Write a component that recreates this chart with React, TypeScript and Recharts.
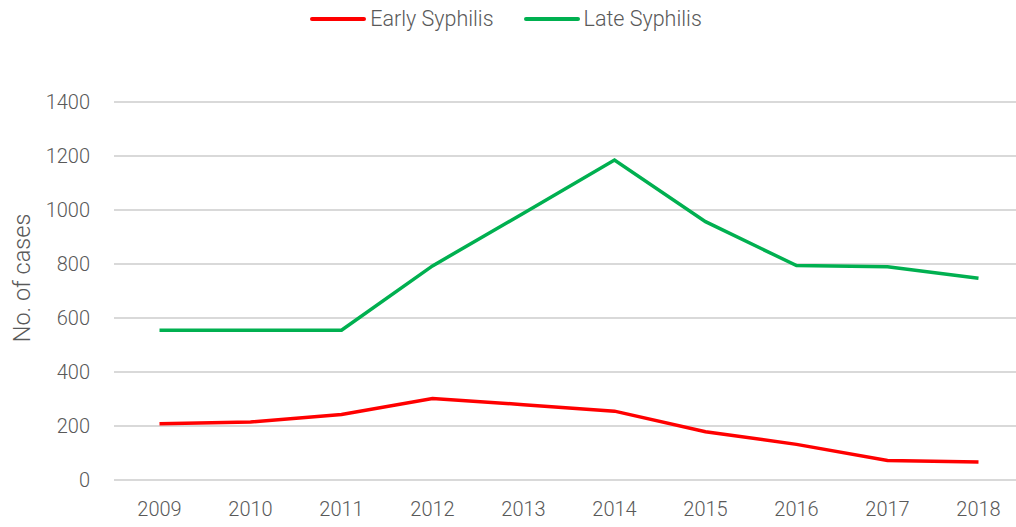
import React from 'react';
import { LineChart, Line, XAxis, YAxis, CartesianGrid, Label } from 'recharts';

const years = ['2009', '2010', '2011', '2012', '2013', '2014', '2015', '2016', '2017', '2018'];
const earlySyphilis = [208, 215, 243, 302, 279, 255, 179, 132, 72, 67];
const lateSyphilis = [555, 555, 555, 793, 988, 1185, 957, 794, 790, 747];
const yTicks = [0, 200, 400, 600, 800, 1000, 1200, 1400];
const seriesNames = ['Early Syphilis', 'Late Syphilis'];
const seriesColors = ['#FF0000', '#00B050'];

const data = years.map((y, i) => ({ year: y, early: earlySyphilis[i], late: lateSyphilis[i] }));

const FONT = 'Roboto, sans-serif';
const TEXT = '#595959';

const LegendBlock = () => (
  <div style={{ position: 'absolute', top: 6, left: 0, width: 1012, display: 'flex', justifyContent: 'center', fontFamily: FONT, fontWeight: 300, fontSize: 21.5, color: TEXT, lineHeight: '26px' }}>
    {seriesNames.map((n, i) => (
      <div key={n} style={{ display: 'flex', alignItems: 'center', marginRight: i === 0 ? 30 : 0 }}>
        <svg width={56} height={10}><line x1={2} y1={5} x2={54} y2={5} stroke={seriesColors[i]} strokeWidth={4} strokeLinecap="round" /></svg>
        <span style={{ marginLeft: 4 }}>{n}</span>
      </div>
    ))}
  </div>
);

const YLabel = () => (
  <text x={22} y={278} transform="rotate(-90 22 278)" textAnchor="middle" dominantBaseline="central" fill={TEXT} fontSize={23.5} fontFamily={FONT} fontWeight={300}>
    No. of cases
  </text>
);

export default function App() {
  return (
    <div style={{ position: 'absolute', left: 0, top: 0, width: 1030, height: 527, background: '#fff' }}>
      <LineChart width={1030} height={527} data={data} margin={{ top: 102, right: 6, bottom: 0, left: 0 }}>
        <CartesianGrid vertical={false} stroke="#D9D9D9" strokeWidth={2} />
        <XAxis
          dataKey="year"
          axisLine={false}
          tickLine={false}
          padding={{ left: 45.5, right: 45.5 }}
          tick={{ fill: TEXT, fontSize: 20, fontFamily: FONT, fontWeight: 300 }}
          tickMargin={16}
          height={47}
          interval={0}
        />
        <YAxis
          domain={[0, 1400]}
          ticks={yTicks}
          axisLine={false}
          tickLine={false}
          width={114}
          tickMargin={18}
          tick={{ fill: TEXT, fontSize: 20, fontFamily: FONT, fontWeight: 300 }}
        >
          <Label content={<YLabel />} />
        </YAxis>
        <Line type="linear" dataKey="early" name={seriesNames[0]} stroke={seriesColors[0]} strokeWidth={3.5} dot={false} isAnimationActive={false} />
        <Line type="linear" dataKey="late" name={seriesNames[1]} stroke={seriesColors[1]} strokeWidth={3.5} dot={false} isAnimationActive={false} />
      </LineChart>
      <LegendBlock />
    </div>
  );
}
